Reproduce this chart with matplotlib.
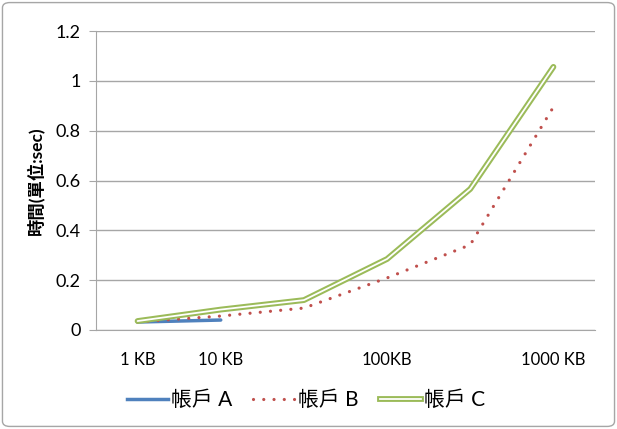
import matplotlib
matplotlib.use("Agg")
import matplotlib.pyplot as plt
from matplotlib.patches import FancyBboxPatch
from matplotlib.lines import Line2D
import matplotlib.patheffects as pe

plt.rcParams['font.family'] = ['Lato', 'Noto Sans CJK TC', 'DejaVu Sans']

# 資料
sizes = ["1 KB", "10 KB", "", "100KB", "", "1000 KB"]
acct_a = [0.032, 0.040]
acct_b = [0.032, 0.056, 0.088, 0.209, 0.342, 0.895]
acct_c = [0.036, 0.082, 0.120, 0.285, 0.566, 1.056]

x = list(range(len(sizes)))
DOT = (0, (0.01, 3.2))

fig = plt.figure(figsize=(6.17, 4.29), dpi=100)
ax = fig.add_axes([96 / 617, 1 - 330 / 429, 499 / 617, 299 / 429])

# 外框
fig.patches.append(FancyBboxPatch((0.004, 0.006), 0.992, 0.988,
                                  boxstyle="round,pad=0,rounding_size=0.012",
                                  transform=fig.transFigure, fill=False,
                                  edgecolor="#a6a6a6", linewidth=1.0))

ax.plot(x[:len(acct_a)], acct_a, color="#4f81bd", linewidth=2.5,
        solid_capstyle="round", zorder=3)
ax.plot(x, acct_b, color="#c0504d", linewidth=2.3, linestyle=DOT,
        dash_capstyle="round", zorder=3)
# 帳戶 C: 雙線
ax.plot(x, acct_c, color="#9bbb59", linewidth=4.2, zorder=4,
        solid_capstyle="round", solid_joinstyle="round")
ax.plot(x, acct_c, color="white", linewidth=1.3, zorder=5,
        solid_capstyle="round", solid_joinstyle="round")

ax.set_xlim(-0.5, 5.5)
ax.set_ylim(0, 1.2)
ax.set_yticks([0, 0.2, 0.4, 0.6, 0.8, 1.0, 1.2])
ax.set_yticklabels(["0", "0.2", "0.4", "0.6", "0.8", "1", "1.2"])
ax.set_xticks(x)
ax.set_xticklabels(sizes)

ax.grid(axis="y", color="#a6a6a6", linewidth=1)
ax.set_axisbelow(True)
for s in ["top", "right"]:
    ax.spines[s].set_visible(False)
ax.spines["left"].set_color("#a6a6a6")
ax.spines["bottom"].set_color("#a6a6a6")
ax.tick_params(axis="y", colors="#a6a6a6", labelcolor="black", labelsize=13,
               length=5, direction="out", pad=6)
ax.tick_params(axis="x", length=0, labelsize=12, pad=16)

ax.set_ylabel("時間(單位:sec)", fontsize=12.5, fontweight="bold", labelpad=8)

# 圖例
h_a = Line2D([], [], color="#4f81bd", linewidth=2.5)
h_b = Line2D([], [], color="#c0504d", linewidth=2.3, linestyle=DOT,
             dash_capstyle="round")
h_c = Line2D([], [], color="white", linewidth=1.3,
             path_effects=[pe.Stroke(linewidth=4.2, foreground="#9bbb59"), pe.Normal()])
fig.legend([h_a, h_b, h_c], ["帳戶 A", "帳戶 B", "帳戶 C"], loc="center",
           bbox_to_anchor=(306 / 617, 1 - 400 / 429), ncol=3, frameon=False,
           fontsize=15, handlelength=2.0, handletextpad=0.15, columnspacing=1.0)

fig.savefig("out.png", dpi=100)
